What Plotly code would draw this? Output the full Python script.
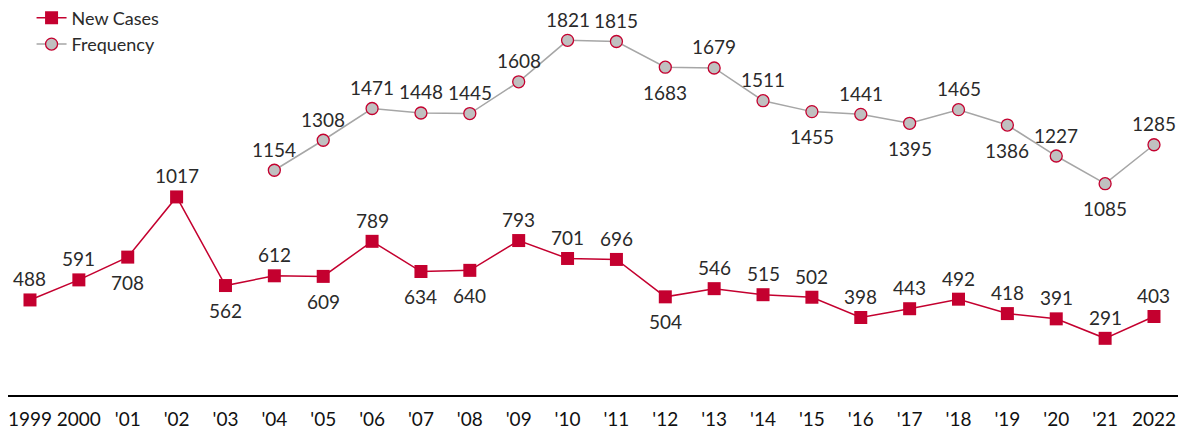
import plotly.graph_objects as go

years = list(range(1999, 2023))
tick_text = ["1999", "2000", "'01", "'02", "'03", "'04", "'05", "'06", "'07", "'08", "'09", "'10",
             "'11", "'12", "'13", "'14", "'15", "'16", "'17", "'18", "'19", "'20", "'21", "2022"]

new_cases = [488, 591, 708, 1017, 562, 612, 609, 789, 634, 640, 793, 701,
             696, 504, 546, 515, 502, 398, 443, 492, 418, 391, 291, 403]
new_cases_pos = ["top", "top", "bottom", "top", "bottom", "top", "bottom", "top", "bottom", "bottom", "top", "top",
                 "top", "bottom", "top", "top", "top", "top", "top", "top", "top", "top", "top", "top"]

freq_years = list(range(2004, 2023))
frequency = [1154, 1308, 1471, 1448, 1445, 1608, 1821, 1815, 1683, 1679, 1511, 1455,
             1441, 1395, 1465, 1386, 1227, 1085, 1285]
freq_pos = ["top", "top", "top", "top", "top", "top", "top", "top", "bottom", "top", "top", "bottom",
            "top", "bottom", "top", "bottom", "top", "bottom", "top"]

RED = "#c4002f"
FONT = "Lato"
TXT = "#2a2a2a"

fig = go.Figure()
fig.add_trace(go.Scatter(
    x=years, y=new_cases, name="New Cases", mode="lines+markers",
    line=dict(color=RED, width=1.5),
    marker=dict(symbol="square", size=13, color=RED),
))
fig.add_trace(go.Scatter(
    x=freq_years, y=frequency, name="Frequency", mode="lines+markers",
    line=dict(color="#a6a6a6", width=1.5),
    marker=dict(symbol="circle", size=12, color="#c0c0c0", line=dict(color=RED, width=1.3)),
))

# value labels, above or below each point
for xs, ys, pos in [(years, new_cases, new_cases_pos), (freq_years, frequency, freq_pos)]:
    for xv, yv, p in zip(xs, ys, pos):
        fig.add_annotation(x=xv, y=yv, text=str(yv), showarrow=False,
                           yshift=21 if p == "top" else -25,
                           font=dict(size=19, color=TXT, family=FONT))

# page body adds an 8px margin, so the figure is a bit smaller than the window
fig.update_layout(
    width=1178, height=422,
    margin=dict(l=0, r=0, t=0, b=35, autoexpand=False),
    plot_bgcolor="white", paper_bgcolor="white",
    font=dict(family=FONT, size=19, color=TXT),
    showlegend=True,
    legend=dict(x=0.02, y=1.022, xanchor="left", yanchor="top",
                bgcolor="rgba(0,0,0,0)", font=dict(size=18, family=FONT, color=TXT),
                tracegroupgap=0),
)
fig.update_xaxes(
    range=[1998.55, 2022.655], tickvals=years, ticktext=tick_text,
    showgrid=False, zeroline=False, showline=True, linecolor="black", linewidth=1.5,
    ticks="outside", ticklen=6, tickcolor="rgba(0,0,0,0)", automargin=False,
    ticklabeloverflow="allow",
    tickfont=dict(size=19, color="#111111", family=FONT),
)
fig.update_yaxes(range=[0, 1987], visible=False, showgrid=False)

fig.write_html("out.html")
